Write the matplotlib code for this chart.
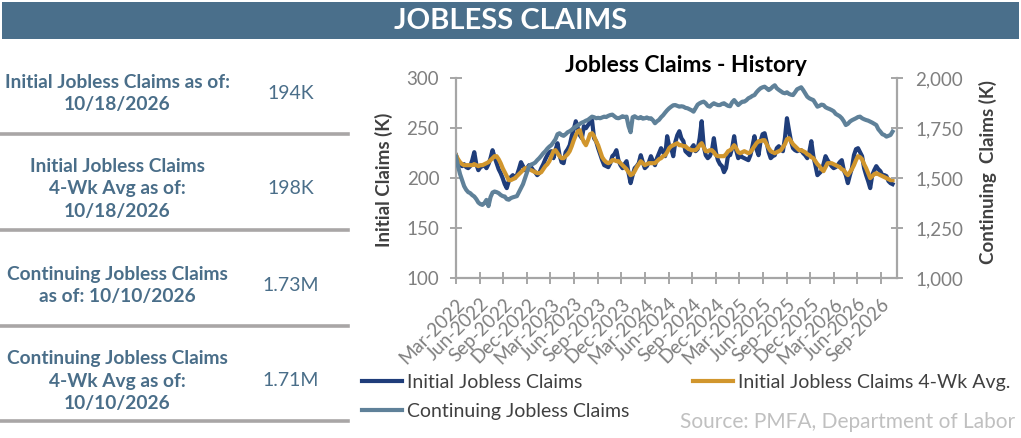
import numpy as np
import matplotlib
matplotlib.use('Agg')
import matplotlib.pyplot as plt
import matplotlib.ticker as mticker
from matplotlib.patches import Rectangle
from matplotlib.lines import Line2D

plt.rcParams['font.family'] = ['Lato', 'DejaVu Sans']

# 左侧表格
row_labels = [
    "Initial Jobless Claims as of:\n10/18/2026",
    "Initial Jobless Claims\n4-Wk Avg as of:\n10/18/2026",
    "Continuing Jobless Claims\nas of: 10/10/2026",
    "Continuing Jobless Claims\n4-Wk Avg as of:\n10/10/2026",
]
row_values = ["194K", "198K", "1.73M", "1.71M"]

# 每周数据 (K)
initial_claims = [
    223, 216, 213, 212, 214, 211, 210, 212, 218, 226, 214, 208, 211, 212, 213, 210,
    214, 220, 228, 221, 215, 209, 205, 200, 194, 190, 197, 201, 203, 200, 203, 209,
    216, 212, 208, 210, 213, 211, 208, 206, 203, 205, 210, 214, 219, 223, 226, 227,
    220, 228, 235, 223, 216, 215, 226, 229, 233, 242, 249, 257, 250, 243, 240, 252,
    250, 253, 256, 258, 240, 237, 230, 224, 218, 213, 212, 211, 215, 222, 224, 228,
    218, 213, 210, 214, 217, 205, 195, 203, 210, 212, 215, 223, 216, 210, 212, 216,
    222, 217, 213, 220, 225, 230, 226, 222, 242, 232, 230, 222, 236, 243, 247, 240,
    237, 227, 225, 223, 230, 233, 227, 229, 240, 257, 232, 223, 220, 222, 227, 240,
    226, 218, 214, 212, 206, 210, 223, 223, 230, 242, 228, 220, 223, 221, 220, 219,
    218, 223, 232, 242, 229, 223, 237, 244, 245, 236, 226, 220, 222, 223, 230, 232,
    229, 227, 240, 260, 248, 237, 230, 228, 227, 228, 228, 225, 223, 220, 226, 237,
    222, 213, 203, 205, 207, 214, 222, 218, 215, 212, 210, 211, 213, 216, 218, 208,
    203, 195, 203, 210, 223, 229, 230, 226, 222, 210, 203, 197, 190, 203, 208, 212,
    209, 207, 203, 203, 202, 197, 195, 194,
]
initial_4wk = [
    223, 219, 216, 214, 213, 213, 213, 213, 213, 214, 213, 212, 213, 213, 214, 215,
    216, 218, 220, 222, 222, 219, 215, 210, 206, 202, 198, 198, 199, 200, 202, 204,
    206, 208, 210, 210, 209, 208, 207, 206, 205, 205, 206, 209, 212, 214, 217, 222,
    227, 228, 225, 222, 220, 220, 222, 224, 227, 232, 238, 243, 247, 248, 241, 236,
    233, 238, 244, 245, 242, 237, 233, 227, 221, 218, 216, 215, 216, 218, 218, 217,
    217, 215, 213, 211, 209, 206, 203, 204, 207, 211, 214, 217, 215, 213, 214, 215,
    215, 215, 215, 217, 219, 220, 222, 223, 226, 230, 232, 233, 234, 235, 233, 233,
    232, 232, 230, 229, 228, 228, 228, 230, 233, 235, 231, 227, 227, 228, 228, 226,
    223, 222, 222, 222, 222, 224, 227, 228, 230, 233, 230, 226, 225, 226, 227, 226,
    225, 226, 229, 232, 235, 237, 237, 238, 238, 234, 230, 227, 226, 225, 226, 227,
    228, 231, 234, 239, 240, 237, 234, 232, 230, 228, 228, 227, 226, 224, 223, 221,
    220, 217, 214, 212, 209, 207, 211, 215, 215, 215, 214, 213, 212, 211, 209, 208,
    205, 203, 206, 209, 213, 218, 222, 221, 219, 214, 210, 205, 200, 202, 204, 205,
    204, 203, 202, 201, 200, 199, 198, 198,
]
continuing = [
    1608, 1560, 1520, 1490, 1460, 1442, 1430, 1425, 1415, 1408, 1395, 1378, 1370, 1366, 1375, 1391,
    1360, 1405, 1428, 1433, 1430, 1425, 1416, 1410, 1408, 1395, 1392, 1400, 1404, 1407, 1410, 1430,
    1450, 1470, 1500, 1530, 1560, 1568, 1572, 1578, 1590, 1600, 1612, 1625, 1635, 1648, 1658, 1666,
    1680, 1695, 1720, 1725, 1716, 1712, 1720, 1730, 1735, 1742, 1752, 1758, 1765, 1772, 1778, 1782,
    1788, 1792, 1800, 1808, 1805, 1800, 1802, 1800, 1804, 1808, 1806, 1812, 1816, 1818, 1810, 1802,
    1800, 1804, 1810, 1806, 1808, 1760, 1730, 1805, 1810, 1803, 1800, 1806, 1798, 1800, 1804, 1798,
    1800, 1790, 1775, 1785, 1792, 1805, 1815, 1828, 1840, 1850, 1858, 1865, 1866, 1862, 1858, 1860,
    1858, 1852, 1850, 1845, 1840, 1833, 1850, 1868, 1875, 1880, 1883, 1875, 1862, 1858, 1868, 1875,
    1870, 1866, 1866, 1872, 1875, 1868, 1862, 1860, 1880, 1891, 1878, 1866, 1875, 1883, 1883, 1890,
    1900, 1905, 1912, 1916, 1930, 1941, 1950, 1955, 1958, 1950, 1941, 1948, 1958, 1965, 1950, 1942,
    1935, 1928, 1925, 1930, 1922, 1918, 1916, 1930, 1945, 1950, 1955, 1941, 1925, 1908, 1900, 1895,
    1891, 1875, 1858, 1862, 1868, 1866, 1855, 1850, 1846, 1841, 1835, 1822, 1816, 1810, 1800, 1785,
    1766, 1772, 1783, 1790, 1795, 1800, 1806, 1808, 1800, 1795, 1791, 1788, 1783, 1778, 1772, 1766,
    1745, 1733, 1720, 1716, 1708, 1712, 1716, 1733,
]
quarter_labels = [
    'Mar-2022', 'Jun-2022', 'Sep-2022', 'Dec-2022', 'Mar-2023', 'Jun-2023', 'Sep-2023',
    'Dec-2023', 'Mar-2024', 'Jun-2024', 'Sep-2024', 'Dec-2024', 'Mar-2025', 'Jun-2025',
    'Sep-2025', 'Dec-2025', 'Mar-2026', 'Jun-2026', 'Sep-2026',
]

# 颜色
header_color = '#4A6F8B'
text_blue = '#4A6E89'
c_initial = '#1F3D7A'
c_avg = '#D1962D'
c_cont = '#5F8199'
axis_gray = '#A6A6A6'
tick_gray = '#7F7F7F'

W, H = 1021, 438
fig = plt.figure(figsize=(W / 100, H / 100), dpi=100)

# 标题栏
fig.add_artist(Rectangle((2 / W, 1 - 39 / H), 1017 / W, 37 / H,
                         transform=fig.transFigure, color=header_color, lw=0))
fig.text(0.5, 1 - 21 / H, 'JOBLESS CLAIMS', color='white', fontsize=21,
         fontweight='bold', ha='center', va='center')

# 左侧表格
for y in [134, 230.5, 325.5, 421]:
    fig.add_artist(Line2D([0, 348 / W], [1 - y / H] * 2, transform=fig.transFigure,
                          color='#A9A6A6', lw=2.6))
row_y = [93.5, 189, 285.5, 381]
for lab, val, y in zip(row_labels, row_values, row_y):
    fig.text(117 / W, 1 - y / H, lab, ha='center', va='center', fontsize=13.8,
             fontweight='bold', color=text_blue, linespacing=1.42)
    fig.text(291 / W, 1 - y / H, val, ha='center', va='center', fontsize=14,
             color=text_blue)

# 图表
ax = fig.add_axes([456 / W, 1 - 278 / H, 441 / W, 199.7 / H])
ax2 = ax.twinx()
x = np.arange(len(initial_claims))
l1, = ax.plot(x, initial_claims, color=c_initial, lw=3, label='Initial Jobless Claims',
              solid_joinstyle='round')
l2, = ax.plot(x, initial_4wk, color=c_avg, lw=3, label='Initial Jobless Claims 4-Wk Avg.',
              solid_joinstyle='round')
l3, = ax2.plot(x, continuing, color=c_cont, lw=3, label='Continuing Jobless Claims',
               solid_joinstyle='round')

ax.set_xlim(0, 217.2)
ax.set_ylim(100, 300)
ax.set_yticks(range(100, 301, 50))
ax2.set_ylim(1000, 2000)
ax2.set_yticks(range(1000, 2001, 250))
ax2.yaxis.set_major_formatter(mticker.StrMethodFormatter('{x:,.0f}'))

for s in ['top', 'right']:
    ax.spines[s].set_visible(False)
for s in ['top', 'left', 'bottom']:
    ax2.spines[s].set_visible(False)
for sp in [ax.spines['left'], ax.spines['bottom'], ax2.spines['right']]:
    sp.set_color(axis_gray)
    sp.set_linewidth(1.6)

ax.tick_params(axis='y', direction='inout', length=8, width=1.4, color=axis_gray,
               labelcolor=tick_gray, labelsize=13.5, pad=8)
ax2.tick_params(axis='y', direction='inout', length=8, width=1.4, color=axis_gray,
                labelcolor=tick_gray, labelsize=13.5, pad=9)

# x 轴: 每季度一个刻度
tick_step = 11.63
ax.set_xticks(np.arange(len(quarter_labels)) * tick_step)
ax.set_xticklabels(quarter_labels, rotation=45, ha='right', rotation_mode='anchor')
ax.tick_params(axis='x', direction='inout', length=9, width=1.4, color=axis_gray,
               pad=8, labelsize=13.5, labelcolor=tick_gray)

fig.text(686 / W, 1 - 66 / H, 'Jobless Claims - History', ha='center', va='center',
         fontsize=16.5, fontweight='bold', color='black')
fig.text(384 / W, 1 - 180 / H, 'Initial Claims (K)', rotation=90, ha='center',
         va='center', fontsize=13.5, fontweight='bold', color='#404040')
fig.text(988 / W, 1 - 172 / H, 'Continuing  Claims (K)', rotation=90, ha='center',
         va='center', fontsize=13.5, fontweight='bold', color='#404040')

# 图例
leg = fig.legend([l1, l3, l2], [l1.get_label(), l3.get_label(), l2.get_label()],
                 loc='upper left', bbox_to_anchor=(362 / W, 1 - 374 / H), ncol=2,
                 frameon=False, fontsize=14, handlelength=2.05, handletextpad=0.25,
                 columnspacing=3.3, labelspacing=0.62, borderpad=0, borderaxespad=0)
for t in leg.get_texts():
    t.set_color('#404040')

fig.text(1015 / W, 1 - 422 / H, 'Source: PMFA, Department of Labor', ha='right',
         va='center', fontsize=15, color='#C0C0C0')

fig.savefig('out.png', dpi=100)
